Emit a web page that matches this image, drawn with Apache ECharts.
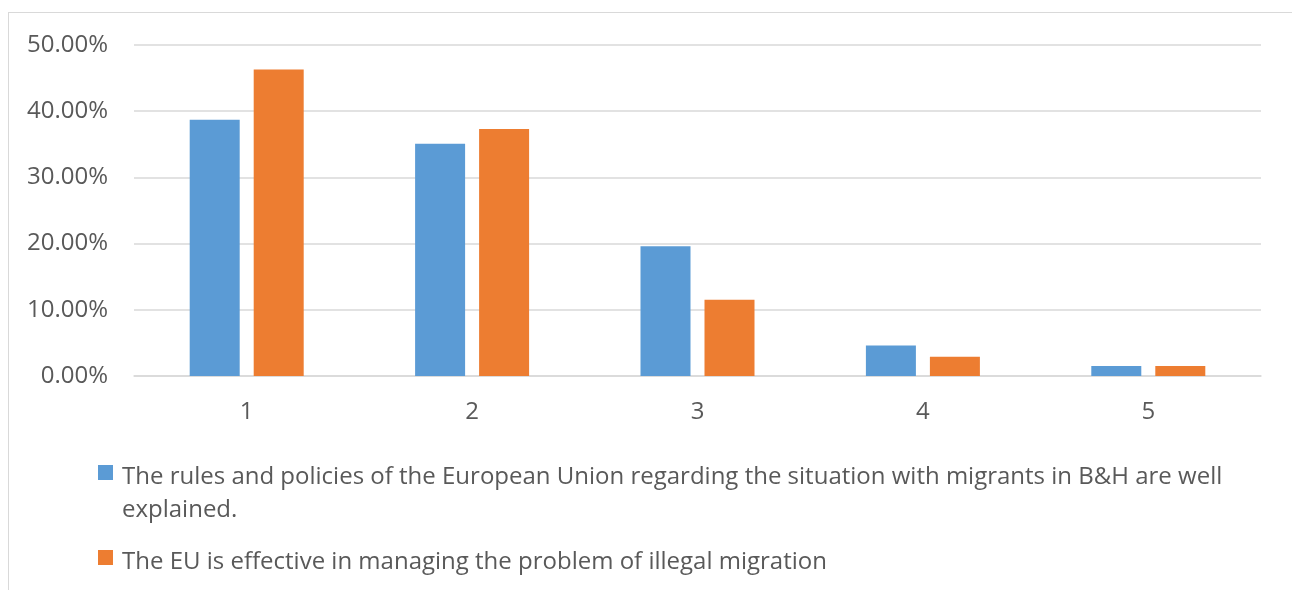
<!DOCTYPE html>
<html>
<head>
<meta charset="utf-8">
<script src="https://cdn.jsdelivr.net/npm/echarts@6/dist/echarts.min.js"></script>
<style>
  html, body { margin: 0; padding: 0; background: #ffffff; }
  #frame { position: absolute; left: 8px; top: 12px; width: 1300px; height: 600px; border: 1px solid #d9d9d9; box-sizing: border-box; }
  #chart { position: absolute; left: 0; top: 0; width: 1292px; height: 590px; }
</style>
</head>
<body>
<div id="frame"></div>
<div id="chart"></div>
<script>
// Survey answers on a 1–5 scale, share of respondents per answer
const categories = ['1', '2', '3', '4', '5'];
const rulesExplained = [0.387, 0.351, 0.196, 0.046, 0.015];
const euEffective = [0.463, 0.373, 0.115, 0.029, 0.015];
const seriesNames = [
  'The rules and policies of the European Union regarding the situation with migrants in B&H are well explained.',
  'The EU is effective in managing the problem of illegal migration'
];
const yTicks = { min: 0, max: 0.5, interval: 0.1 };

const textColor = '#595959';
const gridColor = '#d9d9d9';
const fontFamily = '"Open Sans", "Liberation Sans", sans-serif';

// Legend keys: a 15px square inside a box as tall as two text lines,
// so the square sits beside the first line of a wrapped label.
const keyTop = 'path://M0,0h0.01v0.01Z M0,4h15v15h-15Z M19,66h0.01v0.01Z';
const keyMid = 'path://M0,0h0.01v0.01Z M0,21h15v15h-15Z M19,66h0.01v0.01Z';

const legendBase = {
  orient: 'vertical',
  left: 98,
  padding: 0,
  itemWidth: 19,
  itemHeight: 66,
  symbolKeepAspect: false,
  textStyle: {
    color: textColor, fontFamily, fontSize: 24, lineHeight: 33,
    width: 1150, overflow: 'break'
  }
};

const chart = echarts.init(document.getElementById('chart'), null, { renderer: 'canvas' });
chart.setOption({
  animation: false,
  color: ['#5b9bd5', '#ed7d31'],
  grid: { left: 134, right: 31, top: 45, bottom: 214, containLabel: false },
  xAxis: {
    type: 'category',
    data: categories,
    axisLine: { lineStyle: { color: gridColor, width: 1.5 } },
    axisTick: { show: false },
    axisLabel: { color: textColor, fontFamily, fontSize: 24, margin: 24 }
  },
  yAxis: {
    type: 'value',
    min: yTicks.min,
    max: yTicks.max,
    interval: yTicks.interval,
    axisLine: { show: false },
    axisTick: { show: false },
    splitLine: { lineStyle: { color: gridColor, width: 1.5 } },
    axisLabel: {
      color: textColor, fontFamily, fontSize: 24, margin: 26,
      formatter: v => (v * 100).toFixed(2) + '%'
    }
  },
  legend: [
    Object.assign({}, legendBase, {
      top: 461,
      data: [{ name: seriesNames[0], icon: keyTop }]
    }),
    Object.assign({}, legendBase, {
      top: 529,
      data: [{ name: seriesNames[1], icon: keyMid }]
    })
  ],
  series: [
    {
      name: seriesNames[0],
      type: 'bar',
      data: rulesExplained,
      barWidth: 50,
      barGap: '28%'
    },
    {
      name: seriesNames[1],
      type: 'bar',
      data: euEffective,
      barWidth: 50,
      barGap: '28%'
    }
  ]
});
</script>
</body>
</html>
